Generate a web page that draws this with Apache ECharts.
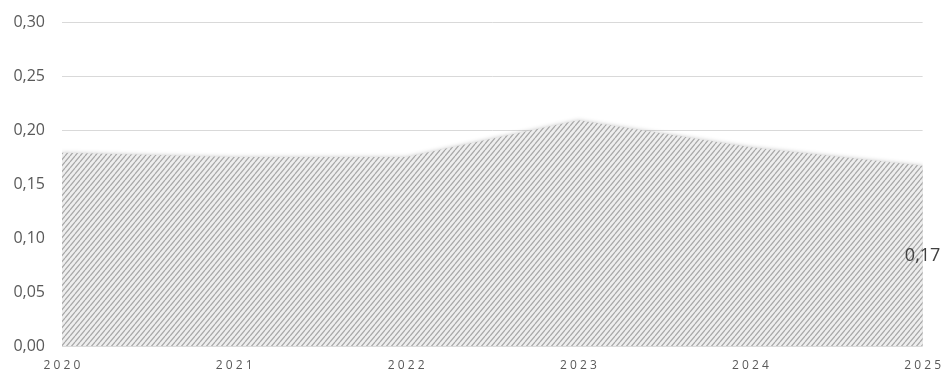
<!DOCTYPE html>
<html>
<head>
<meta charset="utf-8">
<script src="https://cdn.jsdelivr.net/npm/echarts@6/dist/echarts.min.js"></script>
<style>
  html, body { margin: 0; padding: 0; background: #ffffff; }
  #chart { width: 944px; height: 374px; }
</style>
</head>
<body>
<div id="chart"></div>
<script>
// Years on the horizontal axis
const years = ['2020', '2021', '2022', '2023', '2024', '2025'];
// Yearly values of the ratio
const values = [0.179, 0.175, 0.175, 0.209, 0.184, 0.167];
// Value axis scale
const yMin = 0;
const yMax = 0.30;
const yStep = 0.05;

// Diagonal hatch tile used as the area fill
function hatchTile() {
  const w = 5, h = 6;
  const c = document.createElement('canvas');
  c.width = w; c.height = h;
  const g = c.getContext('2d');
  g.fillStyle = '#eeeeee';
  g.fillRect(0, 0, w, h);
  g.strokeStyle = '#a6a6a6';
  g.lineWidth = 1.2;
  g.beginPath();
  for (let k = -1; k <= 1; k++) {
    g.moveTo(k * w, h);
    g.lineTo(k * w + w, 0);
  }
  g.stroke();
  return c;
}

const fmtComma = v => v.toFixed(2).replace('.', ',');
const spaced = s => s.split('').join(' ');
const font = '"Open Sans", Lato, sans-serif';

const chart = echarts.init(document.getElementById('chart'), null, { renderer: 'canvas' });
chart.setOption({
  animation: false,
  backgroundColor: '#ffffff',
  grid: { left: 62, right: 21, top: 22, bottom: 28 },
  xAxis: {
    type: 'category',
    data: years,
    boundaryGap: false,
    axisLine: { show: false },
    axisTick: { show: false },
    axisLabel: {
      color: '#595959',
      fontFamily: font,
      fontSize: 12,
      margin: 14,
      formatter: spaced
    },
    splitLine: { show: false }
  },
  yAxis: {
    type: 'value',
    min: yMin,
    max: yMax,
    interval: yStep,
    axisLine: { show: false },
    axisTick: { show: false },
    axisLabel: {
      color: '#595959',
      fontFamily: font,
      fontSize: 16,
      margin: 17,
      formatter: fmtComma
    },
    splitLine: { lineStyle: { color: '#d9d9d9', width: 1 } }
  },
  series: [{
    type: 'line',
    data: values.map((v, i) => i === values.length - 1
      ? {
          value: v,
          label: {
            show: true,
            position: 'inside',
            offset: [0, 90],
            formatter: p => fmtComma(p.value),
            color: '#404040',
            fontFamily: font,
            fontSize: 18
          }
        }
      : v),
    showSymbol: true,
    symbol: 'circle',
    symbolSize: 1,
    itemStyle: { color: 'rgba(0,0,0,0)', borderWidth: 0 },
    lineStyle: { width: 0 },
    areaStyle: {
      color: { image: hatchTile(), repeat: 'repeat' },
      opacity: 1,
      shadowColor: 'rgba(0,0,0,0.22)',
      shadowBlur: 4
    }
  }]
});
</script>
</body>
</html>
